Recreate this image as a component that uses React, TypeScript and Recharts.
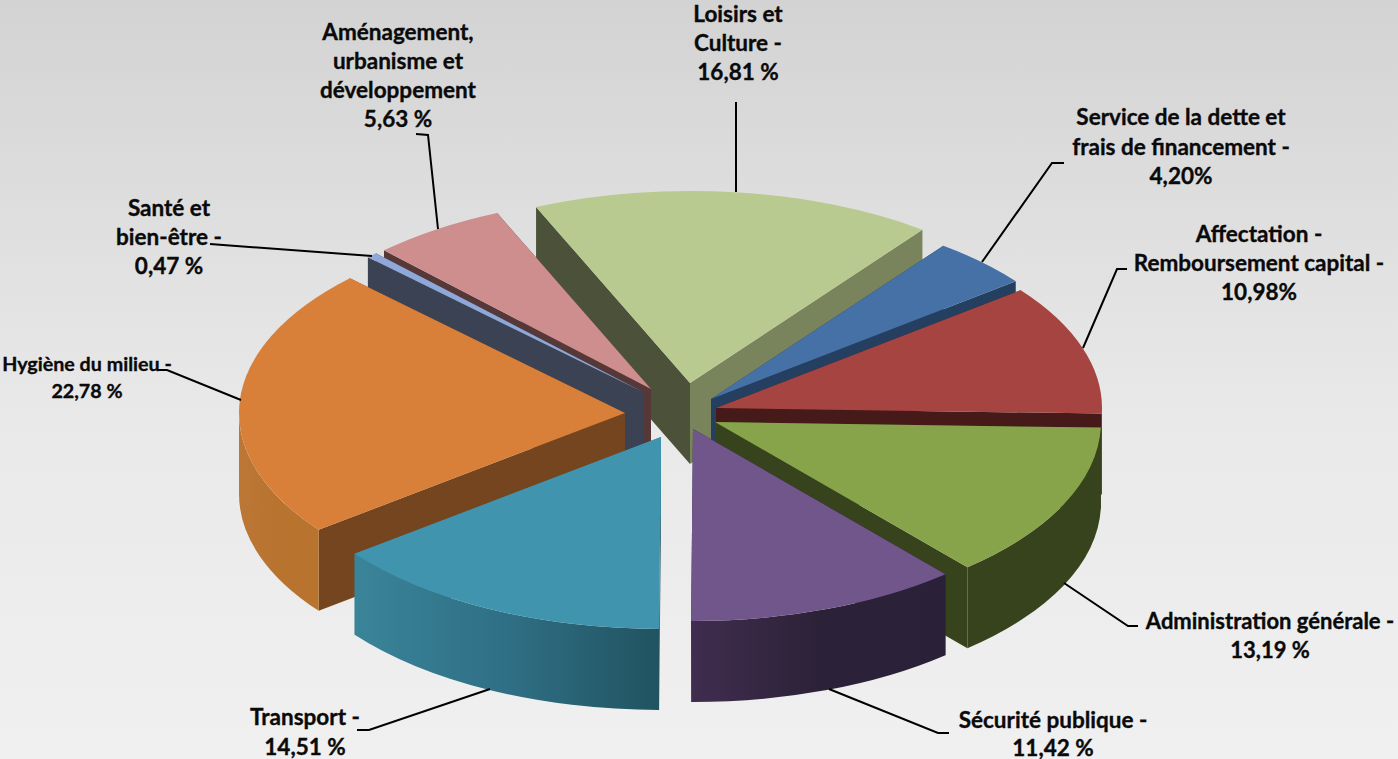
import React from "react";
import { PieChart, Pie } from "recharts";

const CATEGORIES = ["Loisirs et Culture", "Service de la dette et frais de financement", "Affectation - Remboursement capital", "Administration générale", "Sécurité publique", "Transport", "Hygiène du milieu", "Santé et bien-être", "Aménagement, urbanisme et développement"];
const VALUES = [16.81, 4.2, 10.98, 13.19, 11.42, 14.51, 22.78, 0.47, 5.63];
const PERCENT_LABELS = ["16,81 %", "4,20%", "10,98%", "13,19 %", "11,42 %", "14,51 %", "22,78 %", "0,47 %", "5,63 %"];
const LABEL_LINES = [
  ["Loisirs et", "Culture -"],
  ["Service de la dette et", "frais de financement -"],
  ["Affectation -", "Remboursement capital -"],
  ["Administration générale -"],
  ["Sécurité publique -"],
  ["Transport -"],
  ["Hygiène du milieu -"],
  ["Santé et", "bien-être -"],
  ["Aménagement,", "urbanisme et", "développement"],
];
const PAINT_ORDER = [0, 1, 2, 3, 4, 8, 7, 6, 5];

// styling and layout of the exploded, tilted pie
const W = 1398, H = 759;
const CX = 672, CY = 410, RX = 386, TILT = 192 / 386, DEPTH = 81;
const EXPLODE_X = [18, 39, 44, 43, 21, -11, -47, -29, -21];
const EXPLODE_Y = [-27, -11, -2, 12, 19, 27, 3, -18, -21];
const TOP = ["#B8CA90", "#4571A6", "#A64441", "#87A44B", "#71568C", "#4094AE", "#D87F3A", "#8FA8D8", "#CE8E8E"];
const WALL_START = ["#4B5239", "#243F60", "#451A18", "#37431C", "#2A2138", "#215563", "#74451E", "#3A4254", "#563838"];
const WALL_END = ["#79845D", "#243F60", "#451A18", "#37431C", "#2A2138", "#378299", "#74451E", "#3A4254", "#563838"];
const OUTER_A = ["#79845D", "#243F60", "#9A3C3A", "#37431C", "#402D4F", "#3A8499", "#BC7636", "#3A4254", "#563838"];
const OUTER_M = ["#79845D", "#243F60", "#9A3C3A", "#37431C", "#2C2238", "#2F6F85", "#B8732F", "#3A4254", "#563838"];
const OUTER_B = ["#79845D", "#243F60", "#9A3C3A", "#37431C", "#2A2138", "#215360", "#B8732F", "#3A4254", "#563838"];
const TEXT_CX = [738, 1181, 1259, 1270, 1053, 305, 87, 169, 398];
const TEXT_Y = [22, 125, 242, 629, 728, 725, 371, 216, 40];
const TEXT_SIZE = [22.5, 22.5, 22.5, 22, 22.5, 22.5, 19.7, 22.5, 22.5];
const LINE_H = [29, 29.5, 29, 29, 27.5, 30, 27, 29, 29];
const LEADERS = [
  "736,102 736,192",
  "1064,163 1052,163 982,262",
  "1127,269 1117,269 1083,348",
  "1138,626 1128,626 1064,583",
  "949,733 938,733 829,689",
  "357,730 369,730 490,689",
  "157,370 167,370 241,400",
  "210,244 372,256",
  "416,134 428,135 438,229",
];

const tableData = CATEGORIES.map((name, i) => ({ name, value: VALUES[i] }));

const makeShape = (slice: number) => (props: any) => {
  const idx = CATEGORIES.indexOf(props.payload?.name ?? props.name);
  if (idx !== slice) return <g />;
  const rx = props.outerRadius;
  const ry = rx * TILT;
  const ax = props.cx + EXPLODE_X[idx];
  const ay = props.cy + EXPLODE_Y[idx];
  const pt = (deg: number) => {
    const t = (deg * Math.PI) / 180;
    return [ax + rx * Math.cos(t), ay - ry * Math.sin(t)];
  };
  const a0 = props.startAngle;
  const a1 = props.endAngle;
  const [x0, y0] = pt(a0);
  const [x1, y1] = pt(a1);
  const large = Math.abs(a0 - a1) > 180 ? 1 : 0;
  const wall = (x: number, y: number) =>
    `M${ax},${ay} L${x},${y} L${x},${y + DEPTH} L${ax},${ay + DEPTH} Z`;
  const hi = Math.min(a0, 0);
  const lo = Math.max(a1, -180);
  let outer = "";
  if (hi > lo) {
    const [hx, hy] = pt(hi);
    const [lx, ly] = pt(lo);
    outer = `M${hx},${hy} A${rx},${ry} 0 0 1 ${lx},${ly} L${lx},${ly + DEPTH} A${rx},${ry} 0 0 0 ${hx},${hy + DEPTH} Z`;
  }
  const gid = `outer-${idx}`;
  return (
    <g>
      <defs>
        <linearGradient id={gid} x1="0" y1="0" x2="1" y2="0">
          <stop offset="0" stopColor={OUTER_A[idx]} />
          <stop offset="0.5" stopColor={OUTER_M[idx]} />
          <stop offset="1" stopColor={OUTER_B[idx]} />
        </linearGradient>
      </defs>
      <path d={wall(x0, y0)} fill={WALL_START[idx]} />
      <path d={wall(x1, y1)} fill={WALL_END[idx]} />
      {outer && <path d={outer} fill={`url(#${gid})`} />}
      <path
        d={`M${ax},${ay} L${x0},${y0} A${rx},${ry} 0 ${large} 1 ${x1},${y1} Z`}
        fill={TOP[idx]}
      />
    </g>
  );
};

const noShape = () => <g />;

const renderLabel = (props: any) => {
  const idx = CATEGORIES.indexOf(props.payload?.name ?? props.name);
  if (idx < 0) return <g />;
  const lines = [...LABEL_LINES[idx], PERCENT_LABELS[idx]];
  return (
    <g>
      <polyline points={LEADERS[idx]} fill="none" stroke="#000" strokeWidth={2} />
      {lines.map((line, k) => (
        <text
          key={k}
          x={TEXT_CX[idx]}
          y={TEXT_Y[idx] + k * LINE_H[idx]}
          textAnchor="middle"
          fontFamily="Lato, sans-serif"
          fontWeight={700}
          fontSize={TEXT_SIZE[idx]}
          fill="#0a0a0a"
          stroke="#0a0a0a"
          strokeWidth={0.35}
        >
          {line}
        </text>
      ))}
    </g>
  );
};

export default function App() {
  return (
    <div
      style={{
        position: "absolute",
        left: 0,
        top: 0,
        width: W,
        height: H,
        background: "linear-gradient(180deg, #D3D3D3 0%, #E9E9E9 55%, #F0F0F0 100%)",
      }}
    >
      <PieChart width={W} height={H} margin={{ top: 0, right: 0, bottom: 0, left: 0 }}>
        {PAINT_ORDER.map((slice) => (
          <Pie
            key={slice}
            data={tableData}
            dataKey="value"
            nameKey="name"
            cx={CX}
            cy={CY}
            innerRadius={0}
            outerRadius={RX}
            startAngle={113.5}
            endAngle={-246.5}
            paddingAngle={0}
            stroke="none"
            shape={makeShape(slice)}
            isAnimationActive={false}
            legendType="none"
          />
        ))}
        <Pie
          data={tableData}
          dataKey="value"
          nameKey="name"
          cx={CX}
          cy={CY}
          innerRadius={0}
          outerRadius={RX}
          startAngle={113.5}
          endAngle={-246.5}
          stroke="none"
          shape={noShape}
          label={renderLabel}
          labelLine={false}
          isAnimationActive={false}
          legendType="none"
        />
      </PieChart>
    </div>
  );
}
